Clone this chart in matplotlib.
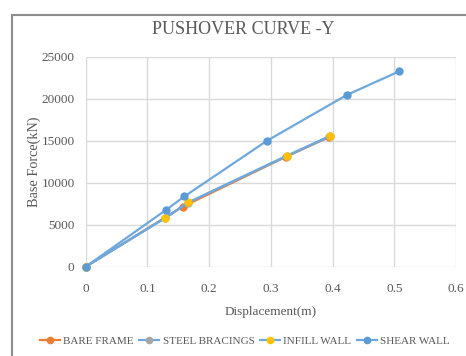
import matplotlib
matplotlib.use("Agg")
import matplotlib.pyplot as plt
from matplotlib.patches import Rectangle

plt.rcParams["font.family"] = ["Liberation Serif", "DejaVu Serif"]

# displacement (m) / base force (kN) for each model
bare_x = [0, 0.157, 0.325, 0.395]
bare_y = [0, 7140, 13100, 15450]
steel_x = [0, 0.129, 0.166, 0.326, 0.396]
steel_y = [0, 5800, 7620, 13180, 15530]
infill_x = [0, 0.129, 0.166, 0.326, 0.396]
infill_y = [0, 5830, 7650, 13210, 15560]
shear_x = [0, 0.130, 0.160, 0.293, 0.423, 0.508]
shear_y = [0, 6750, 8370, 14960, 20440, 23260]

labels = ["BARE FRAME", "STEEL BRACINGS", "INFILL WALL", "SHEAR WALL"]
x_ticks = [0, 0.1, 0.2, 0.3, 0.4, 0.5, 0.6]
y_ticks = [0, 5000, 10000, 15000, 20000, 25000]

blue = "#5B9BD5"
line_blue = "#6FA8DC"
orange = "#ED7D31"
gray = "#A5A5A5"
yellow = "#FFC000"
text_col = "#595959"

fig = plt.figure(figsize=(4.66, 3.56), dpi=100)
fig.patches.append(Rectangle((12 / 466, -0.1), 1.2, 1 - 15 / 356 + 0.1,
                             transform=fig.transFigure, fill=False,
                             edgecolor="#8C8C8C", linewidth=1.5))

ax = fig.add_axes([85.7 / 466, 1 - 266.7 / 356, (456 - 85.7) / 466, (266.7 - 56.7) / 356])

series = [
    (bare_x, bare_y, orange, orange),
    (steel_x, steel_y, line_blue, gray),
    (infill_x, infill_y, line_blue, yellow),
    (shear_x, shear_y, line_blue, blue),
]
for (xs, ys, lc, mc), name in zip(series, labels):
    ax.plot(xs, ys, color=lc, linewidth=1.6, marker="o", markersize=5,
            markerfacecolor=mc, markeredgecolor=mc, label=name, clip_on=False)

ax.set_xlim(0, 0.6)
ax.set_ylim(0, 25000)
ax.set_xticks(x_ticks)
ax.set_yticks(y_ticks)
ax.set_xticklabels([f"{t:g}" for t in x_ticks])
ax.grid(True, color="#D9D9D9", linewidth=1)
ax.set_axisbelow(True)
for s in ax.spines.values():
    s.set_visible(False)
ax.tick_params(length=0, labelsize=9.5, labelcolor=text_col)
ax.tick_params(axis="x", pad=12)
ax.tick_params(axis="y", pad=8)

ax.set_xlabel("Displacement(m)", fontsize=9.5, color=text_col, labelpad=8)
ax.set_ylabel("Base Force(kN)", fontsize=10.3, color=text_col, labelpad=0)

fig.text(243 / 466, 1 - 30 / 356, "PUSHOVER CURVE -Y", ha="center", va="center",
         fontsize=13, color=text_col)

fig.legend(loc="center", bbox_to_anchor=(245 / 466, 1 - 341 / 356), ncol=4,
           frameon=False, fontsize=8, handlelength=1.8, handletextpad=0.3,
           columnspacing=0.5, labelcolor=text_col, markerscale=0.9)

fig.savefig("out.png", dpi=100)
